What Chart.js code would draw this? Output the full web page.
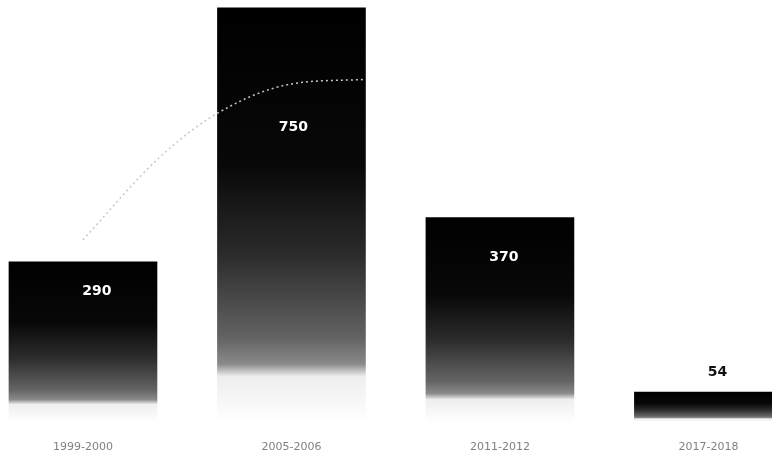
<!DOCTYPE html>
<html>
<head>
<meta charset="utf-8">
<script src="https://cdn.jsdelivr.net/npm/chart.js@4/dist/chart.umd.min.js"></script>
<style>
  html, body { margin: 0; padding: 0; background: #fff; }
  #wrap { width: 772px; height: 457px; }
</style>
</head>
<body>
<div id="wrap"><canvas id="chart"></canvas></div>
<script>
// Data
const periods = ["1999-2000", "2005-2006", "2011-2012", "2017-2018"];
const counts = [290, 750, 370, 54];

// the faint dotted trend curve (x in category units)
const curveX = [0, 0.37, 0.65, 1.0, 1.35];
const curveY = [330, 480, 560, 612, 620];

const barPoints = counts.map((v, i) => ({ x: i, y: v }));
const curvePoints = curveX.map((x, i) => ({ x: x, y: curveY[i] }));

// black at the top fading to grey, then white at the foot
function barGradient(ctx) {
  const chart = ctx.chart;
  if (!chart.chartArea || ctx.type !== "data") return "#000";
  const y = chart.scales.y;
  const top = y.getPixelForValue(counts[ctx.dataIndex]);
  const bottom = y.getPixelForValue(0);
  const g = chart.ctx.createLinearGradient(0, top, 0, bottom);
  g.addColorStop(0, "#000");
  g.addColorStop(0.38, "#080808");
  g.addColorStop(0.6, "#2c2c2c");
  g.addColorStop(0.8, "#646464");
  g.addColorStop(0.86, "#8a8a8a");
  g.addColorStop(0.89, "#eee");
  g.addColorStop(1, "#fff");
  return g;
}

// value labels, drawn by hand on the bar dataset
const valueLabels = {
  id: "valueLabels",
  afterDatasetsDraw(chart, args, opts) {
    const meta = chart.getDatasetMeta(1);
    const c = chart.ctx;
    c.save();
    c.font = "bold 14px 'DejaVu Sans'";
    c.textAlign = "center";
    c.textBaseline = "middle";
    meta.data.forEach((bar, i) => {
      c.fillStyle = opts.colors[i];
      c.fillText(String(counts[i]), bar.x + opts.dx[i], bar.y + opts.dy[i]);
    });
    c.restore();
  },
};

new Chart(document.getElementById("chart"), {
  data: {
    datasets: [
      {
        type: "line",
        data: curvePoints,
        borderColor: "#c8c8c8",
        borderWidth: 1.5,
        borderDash: [2, 3],
        pointRadius: 0,
        tension: 0.4,
        cubicInterpolationMode: "monotone",
        order: 0,
      },
      {
        type: "bar",
        data: barPoints,
        backgroundColor: barGradient,
        barThickness: 148,
        order: 1,
      },
    ],
  },
  options: {
    responsive: true,
    maintainAspectRatio: false,
    animation: false,
    layout: { padding: 0 },
    plugins: {
      legend: { display: false },
      tooltip: { enabled: false },
      valueLabels: {
        dx: [14, 2, 4, 9],
        dy: [30, 120, 40, -20],
        colors: ["#fff", "#fff", "#fff", "#111"],
      },
    },
    scales: {
      x: {
        type: "linear",
        min: -0.398,
        max: 3.305,
        offset: false,
        grid: { display: false, drawTicks: false },
        border: { display: false },
        afterBuildTicks: (scale) => {
          scale.ticks = periods.map((p, i) => ({ value: i }));
        },
        afterFit: (scale) => {
          scale.height = 35;
        },
        ticks: {
          padding: 19,
          color: "#808080",
          font: { family: "DejaVu Sans", size: 11 },
          callback: (value) => periods[Math.round(value)],
        },
      },
      y: {
        display: false,
        min: 0,
        max: 764,
      },
    },
  },
  plugins: [valueLabels],
});
</script>
</body>
</html>
